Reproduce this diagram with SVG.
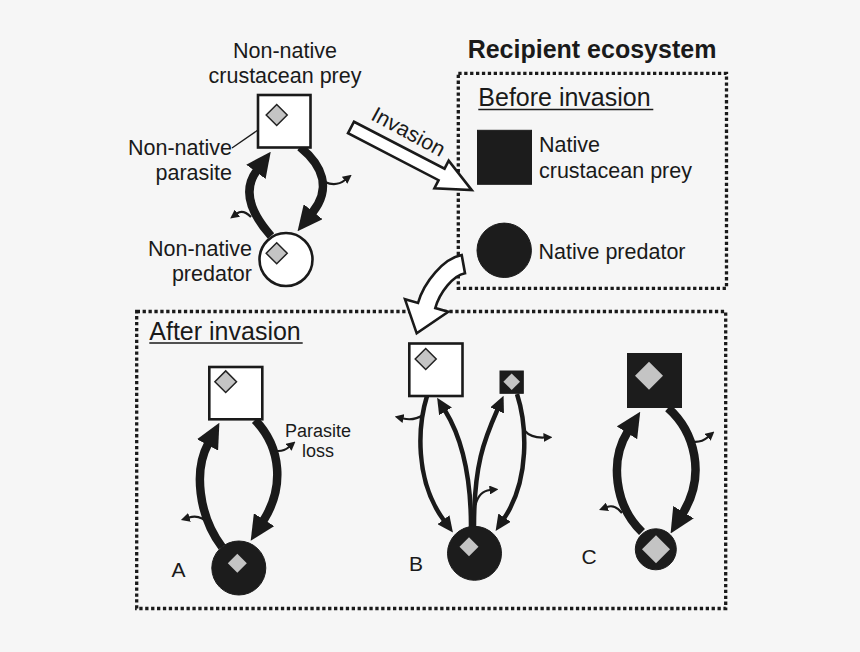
<svg xmlns="http://www.w3.org/2000/svg" width="860" height="652" viewBox="0 0 860 652">
<defs>
<style>
.t{font-family:"Liberation Sans",Arial,Helvetica,sans-serif;fill:#1a1a1a;font-size:21.5px}
.h{font-size:25px}
.b{font-weight:bold;font-size:25px}
.s{font-size:18px}
.l{font-size:21px}
.box{fill:none;stroke:#1a1a1a;stroke-width:3.3;stroke-dasharray:3.3 2.6}
.ul{stroke:#1a1a1a;stroke-width:1.6}
.thk{fill:none;stroke:#1a1a1a;stroke-width:8.5;marker-end:url(#hL)}
.med{fill:none;stroke:#1a1a1a;stroke-width:4.5;marker-end:url(#hM)}
.thn{fill:none;stroke:#1a1a1a;stroke-width:2.2;marker-end:url(#hS)}
.ptr{fill:none;stroke:#1a1a1a;stroke-width:1.3;marker-end:url(#hP)}
.wa{fill:#fff;stroke:#1a1a1a;stroke-width:2.6;stroke-linejoin:miter}
.wn{fill:#fff;stroke:#1a1a1a;stroke-width:2.6}
.bn{fill:#1c1c1c;stroke:#1c1c1c;stroke-width:1}
.dw{fill:#c4c4c4;stroke:#222;stroke-width:1.5}
.db{fill:#c4c4c4}
</style>
<marker id="hL" markerUnits="userSpaceOnUse" viewBox="0 -12 25 24" markerWidth="25" markerHeight="24" refX="1" refY="0" orient="auto"><path d="M0,-12 L25,0 L0,12 Z" fill="#1a1a1a"/></marker>
<marker id="hM" markerUnits="userSpaceOnUse" viewBox="0 -7.5 16 15" markerWidth="16" markerHeight="15" refX="1" refY="0" orient="auto"><path d="M0,-7.5 L16,0 L0,7.5 Z" fill="#1a1a1a"/></marker>
<marker id="hS" markerUnits="userSpaceOnUse" viewBox="0 -4.5 9 9" markerWidth="9" markerHeight="9" refX="0.5" refY="0" orient="auto"><path d="M0,-4.5 L9,0 L0,4.5 Z" fill="#1a1a1a"/></marker>
<marker id="hP" markerUnits="userSpaceOnUse" viewBox="0 -3.2 8 6.4" markerWidth="8" markerHeight="6.4" refX="0.5" refY="0" orient="auto"><path d="M0,-3.2 L8,0 L0,3.2 Z" fill="#1a1a1a"/></marker>
</defs>
<rect x="0" y="0" width="860" height="652" fill="#f6f6f6"/>

<g id="frames">
<rect class="box" x="458.3" y="73.3" width="268.2" height="215"/>
<rect class="box" x="136.7" y="311.5" width="589" height="297"/>
</g>

<g id="connectors">
<!-- top-left non-native loop -->
<path class="thk" d="M271 236 C248 210 244 188 256.5 171"/>
<path class="thk" d="M300 147 C322 165 332 188 312.5 212.5"/>
<path class="thn" d="M325 182 Q336 187 345 180"/>
<path class="thn" d="M251 217 Q243 209 237 213.5"/>
<path class="ptr" d="M232 148 L266 124.5"/>
<!-- invasion arrow -->
<polygon class="wa" transform="translate(351,127.5) rotate(27.4)" points="0,-6.5 102,-6.5 102,-15.5 136,0 102,15.5 102,6.5 0,6.5"/>
<!-- curved white arrow -->
<path class="wa" d="M461.7 255 C443.7 258.2 424 282 418 303 L405 299.3 L416.7 333.3 L448.3 311.7 L435.3 308 C439.7 292.6 453 275.5 465 273.3 Z"/>
<!-- panel A -->
<path class="thk" d="M222 547 C198 515 194 470 208 444"/>
<path class="thk" d="M255 420 C282 448 284 488 263.5 520.5"/>
<path class="thn" d="M272 450 Q282 453 289 447"/>
<path class="thn" d="M209 524 Q200 514 189 517.5"/>
<!-- panel B -->
<path class="med" d="M427 396 C418 425 414 480 444 520.5"/>
<path class="med" d="M471 527 C471 475 462 438 445 410.5"/>
<path class="med" d="M474 527 C474 465 484 440 497.5 409.5"/>
<path class="med" d="M517 394 C527 425 530 480 504 518.5"/>
<path class="thn" d="M423 415 Q414 421 403 418.5"/>
<path class="thn" d="M525 431 Q531 438 544 437.5"/>
<path class="thn" d="M475.5 505 Q479 491 490 490"/>
<!-- panel C -->
<path class="thk" d="M642 532 C614 505 610 460 627.5 432"/>
<path class="thk" d="M668 408 C695 432 706 475 683 513"/>
<path class="thn" d="M689 441 Q700 444 708 437"/>
<path class="thn" d="M622 513 Q615 504 607 507"/>
</g>

<g id="nn-prey">
<rect class="wn" x="258" y="95" width="52.5" height="52.5"/>
<polygon class="dw" points="276.7,104.5 287.2,115 276.7,125.5 266.2,115"/>
</g>
<g id="nn-predator">
<circle class="wn" cx="286" cy="259.5" r="26.5"/>
<polygon class="dw" points="276.7,242.8 287.2,253.3 276.7,263.8 266.2,253.3"/>
</g>
<g id="native-prey">
<rect class="bn" x="477.5" y="130.3" width="54" height="54"/>
</g>
<g id="native-predator">
<circle class="bn" cx="504.2" cy="250.3" r="27.2"/>
</g>
<g id="a-prey">
<rect class="wn" x="209.3" y="367" width="53" height="52.3"/>
<polygon class="dw" points="225.7,370.9 236.5,381.7 225.7,392.5 214.9,381.7"/>
</g>
<g id="a-predator">
<circle class="bn" cx="238.8" cy="568" r="27"/>
<polygon class="db" points="237.3,553.8 246.8,563.3 237.3,572.8 227.8,563.3"/>
</g>
<g id="b-prey-nn">
<rect class="wn" x="409.3" y="343.5" width="53.2" height="52.5"/>
<polygon class="dw" points="425.7,348.5 436.2,359 425.7,369.5 415.2,359"/>
</g>
<g id="b-prey-native">
<rect class="bn" x="500" y="371" width="23.3" height="22.3"/>
<polygon class="db" points="511.7,373.4 520,381.7 511.7,390 503.4,381.7"/>
</g>
<g id="b-predator">
<circle class="bn" cx="474.5" cy="553.3" r="27"/>
<polygon class="db" points="469,537.2 478.5,546.7 469,556.2 459.5,546.7"/>
</g>
<g id="c-prey">
<rect class="bn" x="627.5" y="353.5" width="54" height="54"/>
<polygon class="db" points="649,361.7 663,375.7 649,389.7 635,375.7"/>
</g>
<g id="c-predator">
<circle class="bn" cx="655.8" cy="549.3" r="20.5"/>
<polygon class="db" points="656,535.3 670,549.3 656,563.3 642,549.3"/>
</g>

<g id="labels">
<text class="t" x="285" y="58" text-anchor="middle">Non-native</text>
<text class="t" x="285" y="82.5" text-anchor="middle">crustacean prey</text>
<text class="t" x="232" y="155" text-anchor="end">Non-native</text>
<text class="t" x="232" y="180" text-anchor="end">parasite</text>
<text class="t" x="252" y="256" text-anchor="end">Non-native</text>
<text class="t" x="252" y="280.5" text-anchor="end">predator</text>
<text class="t" transform="translate(405,138) rotate(28.5)" x="0" y="0" text-anchor="middle">Invasion</text>
<text class="t b" x="592" y="58" text-anchor="middle">Recipient ecosystem</text>
<text class="t h" x="478.3" y="106">Before invasion</text>
<line class="ul" x1="478.3" y1="109.5" x2="653.3" y2="109.5"/>
<text class="t" x="539" y="151.7">Native</text>
<text class="t" x="539" y="178.3">crustacean prey</text>
<text class="t" x="538.5" y="259.3">Native predator</text>
<text class="t h" x="149.3" y="339.5">After invasion</text>
<line class="ul" x1="149.3" y1="343" x2="302.7" y2="343"/>
<text class="t s" x="318" y="437" text-anchor="middle">Parasite</text>
<text class="t s" x="318" y="457" text-anchor="middle">loss</text>
<text class="t l" x="171.5" y="577">A</text>
<text class="t l" x="409" y="571">B</text>
<text class="t l" x="581.5" y="563.5">C</text>
</g>
</svg>
